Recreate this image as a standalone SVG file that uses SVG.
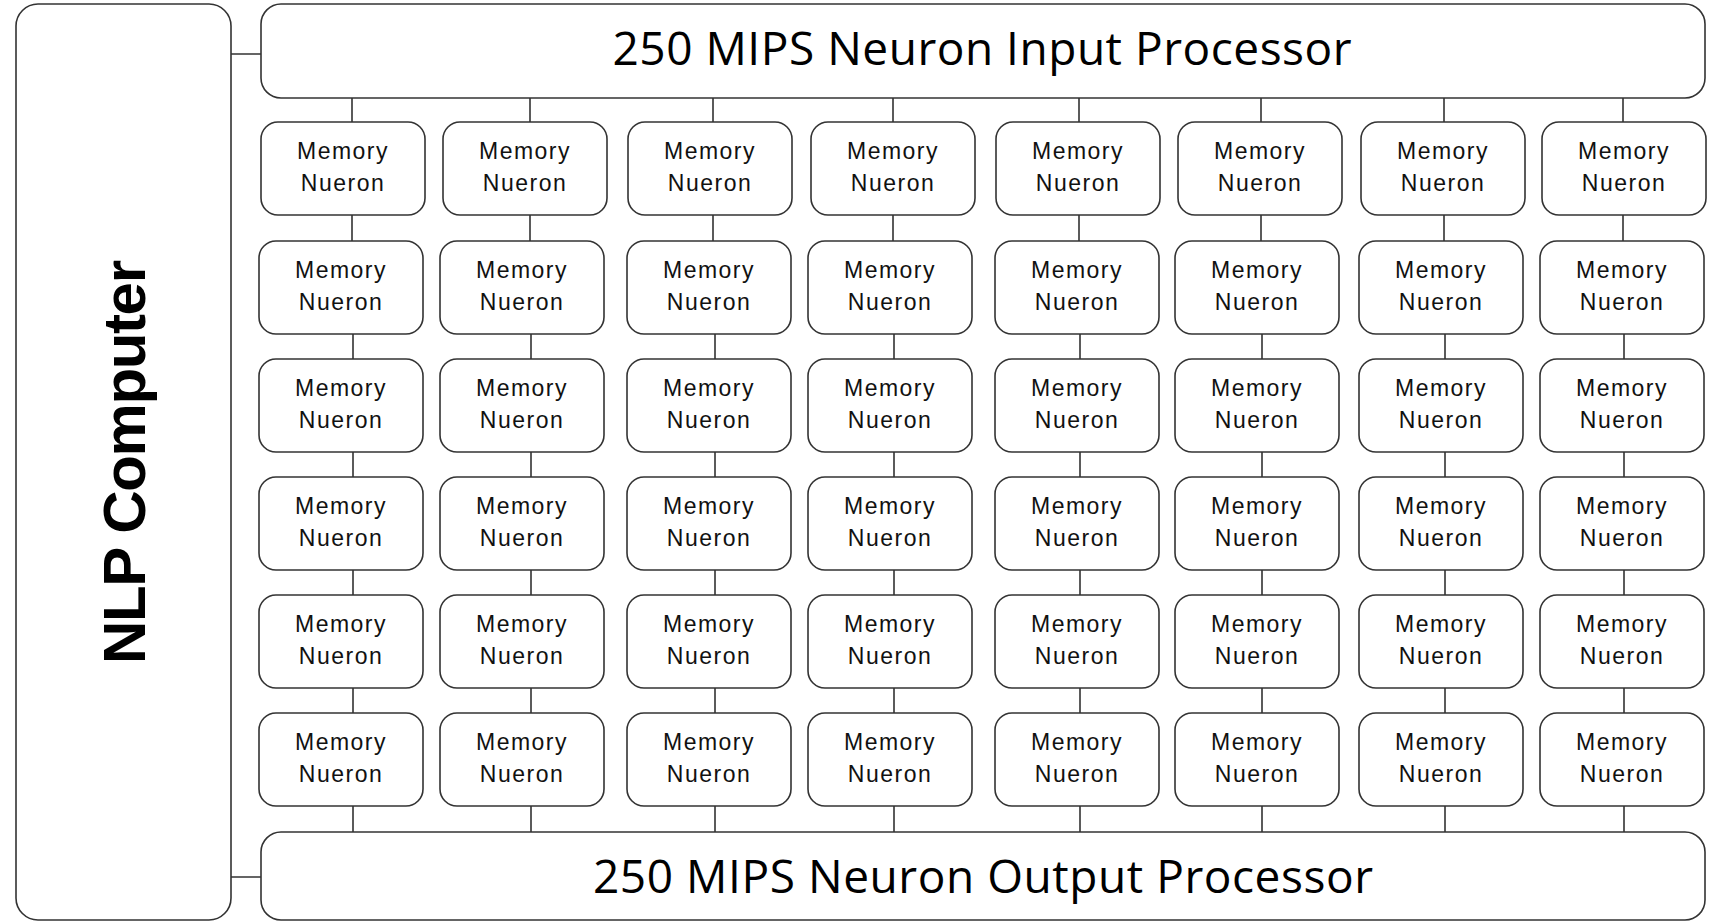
<svg xmlns="http://www.w3.org/2000/svg" width="1716" height="922" viewBox="0 0 1716 922">
<style>
.box{fill:#fff;stroke:#333;stroke-width:1.6}
.wire{stroke:#333;stroke-width:1.6;fill:none}
.mn{font-family:"Liberation Sans",Arial,sans-serif;font-size:23px;letter-spacing:1.5px;fill:#111;text-anchor:middle}
.title{font-family:"Open Sans","Liberation Sans",sans-serif;font-size:46px;fill:#000;text-anchor:middle}
.nlp{font-family:"Liberation Sans",Arial,sans-serif;font-size:60px;font-weight:bold;fill:#000;text-anchor:middle}
</style>
<rect width="1716" height="922" fill="#fff"/>
<g id="connectors" class="wire">
<path d="M231 54H261M231 877H261"/>
<path d="M352 98V122M530 98V122M713 98V122M893 98V122M1079 98V122M1261 98V122M1444 98V122M1623 98V122"/>
<path d="M352 215V241M530 215V241M713 215V241M893 215V241M1079 215V241M1261 215V241M1444 215V241M1623 215V241"/>
<path d="M353 334V359M531 334V359M715 334V359M894 334V359M1080 334V359M1262 334V359M1445 334V359M1624 334V359"/>
<path d="M353 452V477M531 452V477M715 452V477M894 452V477M1080 452V477M1262 452V477M1445 452V477M1624 452V477"/>
<path d="M353 570V595M531 570V595M715 570V595M894 570V595M1080 570V595M1262 570V595M1445 570V595M1624 570V595"/>
<path d="M353 688V713M531 688V713M715 688V713M894 688V713M1080 688V713M1262 688V713M1445 688V713M1624 688V713"/>
<path d="M353 806V832M531 806V832M715 806V832M894 806V832M1080 806V832M1262 806V832M1445 806V832M1624 806V832"/>
</g>
<g id="nlp-computer"><rect class="box" x="16" y="4" width="215" height="916" rx="22"/><text class="nlp" transform="translate(145 462) rotate(-90)" textLength="404">NLP Computer</text></g>
<g id="input-processor"><rect class="box" x="261" y="4" width="1444" height="94" rx="20"/><text class="title" x="982" y="65" textLength="739">250 MIPS Neuron Input Processor</text></g>
<g id="output-processor"><rect class="box" x="261" y="832" width="1444" height="88" rx="20"/><text class="title" x="983" y="893" textLength="780">250 MIPS Neuron Output Processor</text></g>
<g id="mn-1-1"><rect class="box" x="261" y="122" width="164" height="93" rx="17"/><text class="mn" x="343" y="159">Memory</text><text class="mn" x="343" y="191">Nueron</text></g>
<g id="mn-1-2"><rect class="box" x="443" y="122" width="164" height="93" rx="17"/><text class="mn" x="525" y="159">Memory</text><text class="mn" x="525" y="191">Nueron</text></g>
<g id="mn-1-3"><rect class="box" x="628" y="122" width="164" height="93" rx="17"/><text class="mn" x="710" y="159">Memory</text><text class="mn" x="710" y="191">Nueron</text></g>
<g id="mn-1-4"><rect class="box" x="811" y="122" width="164" height="93" rx="17"/><text class="mn" x="893" y="159">Memory</text><text class="mn" x="893" y="191">Nueron</text></g>
<g id="mn-1-5"><rect class="box" x="996" y="122" width="164" height="93" rx="17"/><text class="mn" x="1078" y="159">Memory</text><text class="mn" x="1078" y="191">Nueron</text></g>
<g id="mn-1-6"><rect class="box" x="1178" y="122" width="164" height="93" rx="17"/><text class="mn" x="1260" y="159">Memory</text><text class="mn" x="1260" y="191">Nueron</text></g>
<g id="mn-1-7"><rect class="box" x="1361" y="122" width="164" height="93" rx="17"/><text class="mn" x="1443" y="159">Memory</text><text class="mn" x="1443" y="191">Nueron</text></g>
<g id="mn-1-8"><rect class="box" x="1542" y="122" width="164" height="93" rx="17"/><text class="mn" x="1624" y="159">Memory</text><text class="mn" x="1624" y="191">Nueron</text></g>
<g id="mn-2-1"><rect class="box" x="259" y="241" width="164" height="93" rx="17"/><text class="mn" x="341" y="278">Memory</text><text class="mn" x="341" y="310">Nueron</text></g>
<g id="mn-2-2"><rect class="box" x="440" y="241" width="164" height="93" rx="17"/><text class="mn" x="522" y="278">Memory</text><text class="mn" x="522" y="310">Nueron</text></g>
<g id="mn-2-3"><rect class="box" x="627" y="241" width="164" height="93" rx="17"/><text class="mn" x="709" y="278">Memory</text><text class="mn" x="709" y="310">Nueron</text></g>
<g id="mn-2-4"><rect class="box" x="808" y="241" width="164" height="93" rx="17"/><text class="mn" x="890" y="278">Memory</text><text class="mn" x="890" y="310">Nueron</text></g>
<g id="mn-2-5"><rect class="box" x="995" y="241" width="164" height="93" rx="17"/><text class="mn" x="1077" y="278">Memory</text><text class="mn" x="1077" y="310">Nueron</text></g>
<g id="mn-2-6"><rect class="box" x="1175" y="241" width="164" height="93" rx="17"/><text class="mn" x="1257" y="278">Memory</text><text class="mn" x="1257" y="310">Nueron</text></g>
<g id="mn-2-7"><rect class="box" x="1359" y="241" width="164" height="93" rx="17"/><text class="mn" x="1441" y="278">Memory</text><text class="mn" x="1441" y="310">Nueron</text></g>
<g id="mn-2-8"><rect class="box" x="1540" y="241" width="164" height="93" rx="17"/><text class="mn" x="1622" y="278">Memory</text><text class="mn" x="1622" y="310">Nueron</text></g>
<g id="mn-3-1"><rect class="box" x="259" y="359" width="164" height="93" rx="17"/><text class="mn" x="341" y="396">Memory</text><text class="mn" x="341" y="428">Nueron</text></g>
<g id="mn-3-2"><rect class="box" x="440" y="359" width="164" height="93" rx="17"/><text class="mn" x="522" y="396">Memory</text><text class="mn" x="522" y="428">Nueron</text></g>
<g id="mn-3-3"><rect class="box" x="627" y="359" width="164" height="93" rx="17"/><text class="mn" x="709" y="396">Memory</text><text class="mn" x="709" y="428">Nueron</text></g>
<g id="mn-3-4"><rect class="box" x="808" y="359" width="164" height="93" rx="17"/><text class="mn" x="890" y="396">Memory</text><text class="mn" x="890" y="428">Nueron</text></g>
<g id="mn-3-5"><rect class="box" x="995" y="359" width="164" height="93" rx="17"/><text class="mn" x="1077" y="396">Memory</text><text class="mn" x="1077" y="428">Nueron</text></g>
<g id="mn-3-6"><rect class="box" x="1175" y="359" width="164" height="93" rx="17"/><text class="mn" x="1257" y="396">Memory</text><text class="mn" x="1257" y="428">Nueron</text></g>
<g id="mn-3-7"><rect class="box" x="1359" y="359" width="164" height="93" rx="17"/><text class="mn" x="1441" y="396">Memory</text><text class="mn" x="1441" y="428">Nueron</text></g>
<g id="mn-3-8"><rect class="box" x="1540" y="359" width="164" height="93" rx="17"/><text class="mn" x="1622" y="396">Memory</text><text class="mn" x="1622" y="428">Nueron</text></g>
<g id="mn-4-1"><rect class="box" x="259" y="477" width="164" height="93" rx="17"/><text class="mn" x="341" y="514">Memory</text><text class="mn" x="341" y="546">Nueron</text></g>
<g id="mn-4-2"><rect class="box" x="440" y="477" width="164" height="93" rx="17"/><text class="mn" x="522" y="514">Memory</text><text class="mn" x="522" y="546">Nueron</text></g>
<g id="mn-4-3"><rect class="box" x="627" y="477" width="164" height="93" rx="17"/><text class="mn" x="709" y="514">Memory</text><text class="mn" x="709" y="546">Nueron</text></g>
<g id="mn-4-4"><rect class="box" x="808" y="477" width="164" height="93" rx="17"/><text class="mn" x="890" y="514">Memory</text><text class="mn" x="890" y="546">Nueron</text></g>
<g id="mn-4-5"><rect class="box" x="995" y="477" width="164" height="93" rx="17"/><text class="mn" x="1077" y="514">Memory</text><text class="mn" x="1077" y="546">Nueron</text></g>
<g id="mn-4-6"><rect class="box" x="1175" y="477" width="164" height="93" rx="17"/><text class="mn" x="1257" y="514">Memory</text><text class="mn" x="1257" y="546">Nueron</text></g>
<g id="mn-4-7"><rect class="box" x="1359" y="477" width="164" height="93" rx="17"/><text class="mn" x="1441" y="514">Memory</text><text class="mn" x="1441" y="546">Nueron</text></g>
<g id="mn-4-8"><rect class="box" x="1540" y="477" width="164" height="93" rx="17"/><text class="mn" x="1622" y="514">Memory</text><text class="mn" x="1622" y="546">Nueron</text></g>
<g id="mn-5-1"><rect class="box" x="259" y="595" width="164" height="93" rx="17"/><text class="mn" x="341" y="632">Memory</text><text class="mn" x="341" y="664">Nueron</text></g>
<g id="mn-5-2"><rect class="box" x="440" y="595" width="164" height="93" rx="17"/><text class="mn" x="522" y="632">Memory</text><text class="mn" x="522" y="664">Nueron</text></g>
<g id="mn-5-3"><rect class="box" x="627" y="595" width="164" height="93" rx="17"/><text class="mn" x="709" y="632">Memory</text><text class="mn" x="709" y="664">Nueron</text></g>
<g id="mn-5-4"><rect class="box" x="808" y="595" width="164" height="93" rx="17"/><text class="mn" x="890" y="632">Memory</text><text class="mn" x="890" y="664">Nueron</text></g>
<g id="mn-5-5"><rect class="box" x="995" y="595" width="164" height="93" rx="17"/><text class="mn" x="1077" y="632">Memory</text><text class="mn" x="1077" y="664">Nueron</text></g>
<g id="mn-5-6"><rect class="box" x="1175" y="595" width="164" height="93" rx="17"/><text class="mn" x="1257" y="632">Memory</text><text class="mn" x="1257" y="664">Nueron</text></g>
<g id="mn-5-7"><rect class="box" x="1359" y="595" width="164" height="93" rx="17"/><text class="mn" x="1441" y="632">Memory</text><text class="mn" x="1441" y="664">Nueron</text></g>
<g id="mn-5-8"><rect class="box" x="1540" y="595" width="164" height="93" rx="17"/><text class="mn" x="1622" y="632">Memory</text><text class="mn" x="1622" y="664">Nueron</text></g>
<g id="mn-6-1"><rect class="box" x="259" y="713" width="164" height="93" rx="17"/><text class="mn" x="341" y="750">Memory</text><text class="mn" x="341" y="782">Nueron</text></g>
<g id="mn-6-2"><rect class="box" x="440" y="713" width="164" height="93" rx="17"/><text class="mn" x="522" y="750">Memory</text><text class="mn" x="522" y="782">Nueron</text></g>
<g id="mn-6-3"><rect class="box" x="627" y="713" width="164" height="93" rx="17"/><text class="mn" x="709" y="750">Memory</text><text class="mn" x="709" y="782">Nueron</text></g>
<g id="mn-6-4"><rect class="box" x="808" y="713" width="164" height="93" rx="17"/><text class="mn" x="890" y="750">Memory</text><text class="mn" x="890" y="782">Nueron</text></g>
<g id="mn-6-5"><rect class="box" x="995" y="713" width="164" height="93" rx="17"/><text class="mn" x="1077" y="750">Memory</text><text class="mn" x="1077" y="782">Nueron</text></g>
<g id="mn-6-6"><rect class="box" x="1175" y="713" width="164" height="93" rx="17"/><text class="mn" x="1257" y="750">Memory</text><text class="mn" x="1257" y="782">Nueron</text></g>
<g id="mn-6-7"><rect class="box" x="1359" y="713" width="164" height="93" rx="17"/><text class="mn" x="1441" y="750">Memory</text><text class="mn" x="1441" y="782">Nueron</text></g>
<g id="mn-6-8"><rect class="box" x="1540" y="713" width="164" height="93" rx="17"/><text class="mn" x="1622" y="750">Memory</text><text class="mn" x="1622" y="782">Nueron</text></g>
</svg>
